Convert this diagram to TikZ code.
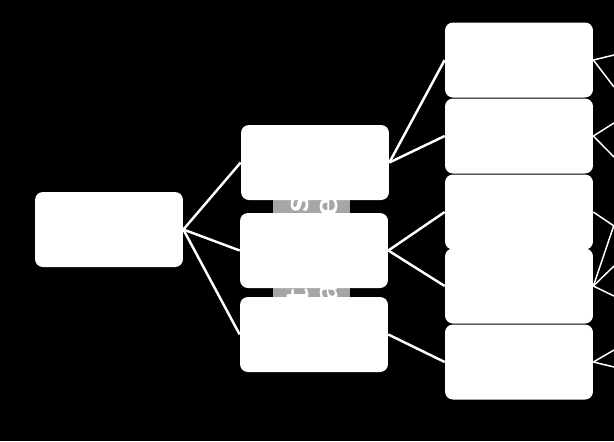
\documentclass[tikz,border=0pt]{standalone}
\usepackage{amsmath, amssymb}
\usepackage{tikz}

\tikzset{
  card/.style={fill=white, draw=none, rounded corners=4.5pt, inner sep=0pt,
    minimum width=2.96cm, minimum height=1.5cm},
  link/.style={white, line width=1.4pt},
  thinlink/.style={white, line width=0.85pt},
  striptext/.style={white, rotate=90, text width=2.1cm, inner sep=0pt,
    font=\sffamily\bfseries\huge}
}

\begin{document}
\begin{tikzpicture}[x=0.02cm, y=-0.02cm]
    \fill[black] (0,0) rectangle (614,441);
    \useasboundingbox (0,0) rectangle (614,441);

    % grey strip behind the middle column
    \fill[gray!70] (273,198) rectangle (350,297);
    \node[striptext] (labA) at (298,250) {t\hfill s};
    \node[striptext] (labB) at (329,250) {a\hfill e};

    % boxes
    \node[card] (root) at (109,229.5) {};
    \node[card] (midA) at (315,162.5) {};
    \node[card] (midB) at (314,250.5) {};
    \node[card] (midC) at (314,334.5) {};

    \node[card] (outA) at (519,60) {};
    \node[card] (outB) at (519,136) {};
    \node[card] (outC) at (519,212) {};
    \node[card] (outD) at (519,286) {};
    \node[card] (outE) at (519,362) {};

    % free ends at the right edge
    \coordinate (eA1) at (614,55);
    \coordinate (eA2) at (614,87);
    \coordinate (eB1) at (614,123);
    \coordinate (eB2) at (614,157);
    \coordinate (eC1) at (614,226);
    \coordinate (eD1) at (614,225);
    \coordinate (eD2) at (614,266);
    \coordinate (eD3) at (614,296);
    \coordinate (eE1) at (614,350);
    \coordinate (eE2) at (614,367);

    % connectors
    \draw[link] (root.east) -- (midA.west);
    \draw[link] (root.east) -- (midB.west);
    \draw[link] (root.east) -- (midC.west);

    \draw[link] (midA.east) -- (outA.west);
    \draw[link] (midA.east) -- (outB.west);
    \draw[link] (midB.east) -- (outC.west);
    \draw[link] (midB.east) -- (outD.west);
    \draw[link] (midC.east) -- (outE.west);

    \draw[thinlink] (outA.east) -- (eA1);
    \draw[thinlink] (outA.east) -- (eA2);
    \draw[thinlink] (outB.east) -- (eB1);
    \draw[thinlink] (outB.east) -- (eB2);
    \draw[thinlink] (outC.east) -- (eC1);
    \draw[thinlink] (outD.east) -- (eD1);
    \draw[thinlink] (outD.east) -- (eD2);
    \draw[thinlink] (outD.east) -- (eD3);
    \draw[thinlink] (outE.east) -- (eE1);
    \draw[thinlink] (outE.east) -- (eE2);
\end{tikzpicture}
\end{document}
